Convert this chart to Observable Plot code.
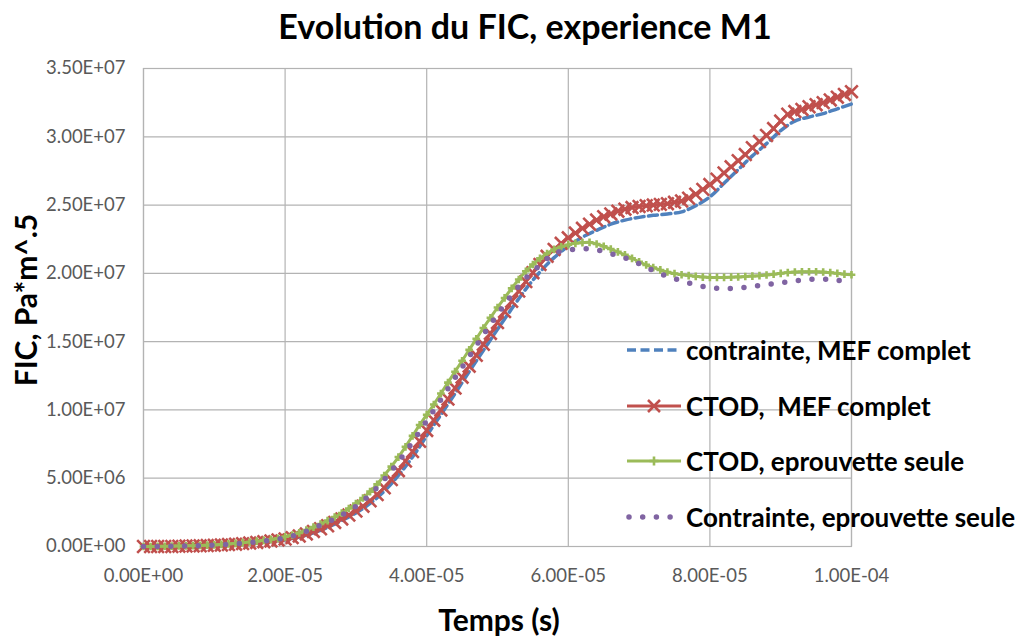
<!DOCTYPE html>
<html><head><meta charset="utf-8">
<script src="https://cdn.jsdelivr.net/npm/d3@7"></script>
<script src="https://cdn.jsdelivr.net/npm/@observablehq/plot@0.6"></script>
<style>
body{margin:0;background:#fff;}
#wrap{position:relative;width:1028px;height:637px;font-family:Lato,"Open Sans",sans-serif;overflow:hidden;}
#title{position:absolute;left:0;width:1050px;top:5px;text-align:center;font-weight:bold;font-size:34px;color:#000;}
#ylab{position:absolute;left:25px;top:300px;transform:translate(-50%,-50%) rotate(-90deg);font-weight:bold;font-size:30px;white-space:nowrap;color:#000;}
#xlab{position:absolute;left:499px;top:619px;transform:translate(-50%,-50%);font-weight:bold;font-size:30px;white-space:nowrap;color:#000;}
#legend{position:absolute;left:625px;top:333px;}
.li{height:55.7px;display:flex;align-items:flex-start;}
.li svg{flex:none;margin-top:3px;}
.li span{font-weight:bold;font-size:26px;color:#000;line-height:34px;margin-left:3px;white-space:nowrap;}
#chart{position:absolute;left:0;top:0;}
</style></head>
<body>
<div id="wrap">
<div id="chart"></div>
<div id="title">Evolution du FIC, experience M1</div>
<div id="ylab">FIC, Pa*m^.5</div>
<div id="xlab">Temps (s)</div>
<div id="legend"></div>
</div>
<script>
// Series names
const seriesNames = ["contrainte, MEF complet", "CTOD,  MEF complet", "CTOD, eprouvette seule", "Contrainte, eprouvette seule"];
const colors = ["#4F81BD", "#C0504D", "#9BBB59", "#8064A2"];

// Time samples (µs)
const t1 = d3.range(0, 101, 1);   // every 1 µs
const t2 = d3.range(0, 101, 2);   // every 2 µs

// FIC values (×1e6 Pa*m^.5)
const ctodMEF = [
 0.0,0.0,0.0,0.0,0.0,0.02,0.03,0.04,0.05,0.07,
 0.09,0.11,0.14,0.17,0.21,0.25,0.30,0.35,0.41,0.48,
 0.55,0.65,0.77,0.92,1.10,1.30,1.52,1.76,2.02,2.30,
 2.60,2.95,3.35,3.80,4.30,4.90,5.55,6.25,6.95,7.70,
 8.50,9.25,10.0,10.8,11.6,12.4,13.2,14.0,14.8,15.6,
 16.4,17.2,17.95,18.7,19.4,20.05,20.65,21.25,21.75,22.2,
 22.6,22.95,23.3,23.6,23.9,24.15,24.35,24.55,24.7,24.82,
 24.9,24.95,25.0,25.05,25.1,25.2,25.3,25.5,25.8,26.15,
 26.5,26.9,27.35,27.8,28.25,28.7,29.2,29.65,30.1,30.6,
 31.15,31.65,31.85,32.0,32.2,32.35,32.5,32.7,32.9,33.1,
 33.3];
const ctodEprouvette = [
 0.0,0.0,0.01,0.02,0.03,0.04,0.05,0.06,0.08,0.10,
 0.12,0.15,0.19,0.23,0.28,0.33,0.39,0.45,0.52,0.60,
 0.71,0.84,1.0,1.2,1.42,1.65,1.9,2.16,2.45,2.78,
 3.15,3.55,4.02,4.55,5.2,5.85,6.55,7.3,8.1,8.9,
 9.65,10.4,11.2,12.0,12.8,13.6,14.4,15.2,16.0,16.75,
 17.5,18.2,18.9,19.55,20.15,20.65,21.1,21.45,21.75,21.95,
 22.1,22.2,22.25,22.27,22.15,21.98,21.78,21.57,21.35,21.1,
 20.85,20.62,20.42,20.25,20.1,19.98,19.9,19.84,19.78,19.73,
 19.7,19.7,19.7,19.72,19.74,19.77,19.8,19.83,19.88,19.94,
 20.0,20.06,20.1,20.12,20.12,20.12,20.1,20.05,20.0,19.94,
 19.9];
const contrainteMEF = [
 0.0,0.0,0.0,0.02,0.04,0.07,0.11,0.17,0.25,0.36,
 0.50,0.70,1.00,1.40,1.90,2.45,3.15,4.05,5.20,6.55,
 8.10,9.65,11.2,12.8,14.35,15.9,17.4,18.85,20.1,21.15,
 22.0,22.65,23.15,23.6,23.9,24.1,24.25,24.35,24.5,24.95,
 25.6,26.6,27.6,28.6,29.5,30.45,31.15,31.45,31.7,32.05,
 32.4];
const contrainteEprouvette = [
 0.0,0.0,0.02,0.04,0.06,0.10,0.16,0.24,0.34,0.47,
 0.63,0.92,1.35,1.8,2.3,2.95,3.8,4.9,6.2,7.65,
 9.2,10.75,12.35,13.9,15.5,17.0,18.4,19.65,20.6,21.45,
 21.7,21.8,21.72,21.45,21.13,20.7,20.2,19.78,19.45,19.15,
 18.97,18.88,18.93,19.05,19.18,19.3,19.45,19.56,19.58,19.48,
 19.4];

// Axis ticks
const xTicks = [0, 2e-5, 4e-5, 6e-5, 8e-5, 1e-4];
const yTicks = [0, 5e6, 1e7, 1.5e7, 2e7, 2.5e7, 3e7, 3.5e7];

const toRows = (ts, vs, s) => ts.map((t, i) => ({t: t * 1e-6, v: vs[i] * 1e6, s}));
const blue = toRows(t2, contrainteMEF, 0);
const red = toRows(t1, ctodMEF, 1);
const green = toRows(t1, ctodEprouvette, 2);
const purple = toRows(t2, contrainteEprouvette, 3);

function sci(d) {
  if (d === 0) return "0.00E+00";
  let e = Math.floor(Math.log10(Math.abs(d)) + 1e-9);
  let m = d / Math.pow(10, e);
  return m.toFixed(2) + "E" + (e < 0 ? "-" : "+") + String(Math.abs(e)).padStart(2, "0");
}

const plot = Plot.plot({
  width: 1028, height: 637,
  marginLeft: 143, marginRight: 177, marginTop: 68, marginBottom: 91,
  style: {fontFamily: "Lato, 'Open Sans', sans-serif", fontSize: "18.5px", color: "#595959", background: "#fff"},
  x: {domain: [0, 1e-4], ticks: xTicks, tickFormat: sci, label: null},
  y: {domain: [0, 3.5e7], ticks: yTicks, tickFormat: sci, label: null},
  marks: [
    Plot.gridX(xTicks, {stroke: "#b3b3b3", strokeOpacity: 1, strokeWidth: 1.2}),
    Plot.gridY(yTicks, {stroke: "#b3b3b3", strokeOpacity: 1, strokeWidth: 1.2}),
    Plot.frame({stroke: "#b3b3b3", strokeWidth: 1.2}),
    Plot.axisX(xTicks, {tickSize: 0, tickPadding: 22, tickFormat: sci, fontSize: 18.5, fill: "#595959"}),
    Plot.axisY(yTicks, {tickSize: 0, tickPadding: 18, tickFormat: sci, fontSize: 18.5, fill: "#595959"}),
    Plot.line(blue, {x: "t", y: "v", stroke: colors[0], strokeWidth: 3.5, strokeDasharray: "9,4.5", curve: "catmull-rom"}),
    Plot.line(red, {x: "t", y: "v", stroke: colors[1], strokeWidth: 3, curve: "catmull-rom"}),
    Plot.dot(red, {x: "t", y: "v", symbol: "times", r: 5.8, stroke: colors[1], strokeWidth: 2.6}),
    Plot.line(green, {x: "t", y: "v", stroke: colors[2], strokeWidth: 3, curve: "catmull-rom"}),
    Plot.dot(green, {x: "t", y: "v", symbol: "plus", r: 2.6, stroke: colors[2], strokeWidth: 2.6}),
    Plot.line(purple, {x: "t", y: "v", stroke: colors[3], strokeWidth: 5.5, strokeDasharray: "0,13.7", strokeLinecap: "round", curve: "catmull-rom"})
  ]
});
document.getElementById("chart").appendChild(plot);

// Legend
const legend = document.getElementById("legend");
const samples = [
  `<line x1="2" y1="14" x2="56" y2="14" stroke="${colors[0]}" stroke-width="3.5" stroke-dasharray="9,4.5"/>`,
  `<line x1="2" y1="14" x2="56" y2="14" stroke="${colors[1]}" stroke-width="3"/><path d="M23,8L35,20M23,20L35,8" stroke="${colors[1]}" stroke-width="2.6"/>`,
  `<line x1="2" y1="14" x2="56" y2="14" stroke="${colors[2]}" stroke-width="3"/><path d="M29,9.5V18.5M24.5,14H33.5" stroke="${colors[2]}" stroke-width="2.6"/>`,
  `<line x1="4" y1="14" x2="56" y2="14" stroke="${colors[3]}" stroke-width="5.5" stroke-dasharray="0,13.7" stroke-linecap="round"/>`
];
seriesNames.forEach((n, i) => {
  const d = document.createElement("div");
  d.className = "li";
  d.innerHTML = `<svg width="58" height="28">${samples[i]}</svg><span>${n.replace(/ /g, "&nbsp;")}</span>`;
  legend.appendChild(d);
});
</script>
</body></html>
